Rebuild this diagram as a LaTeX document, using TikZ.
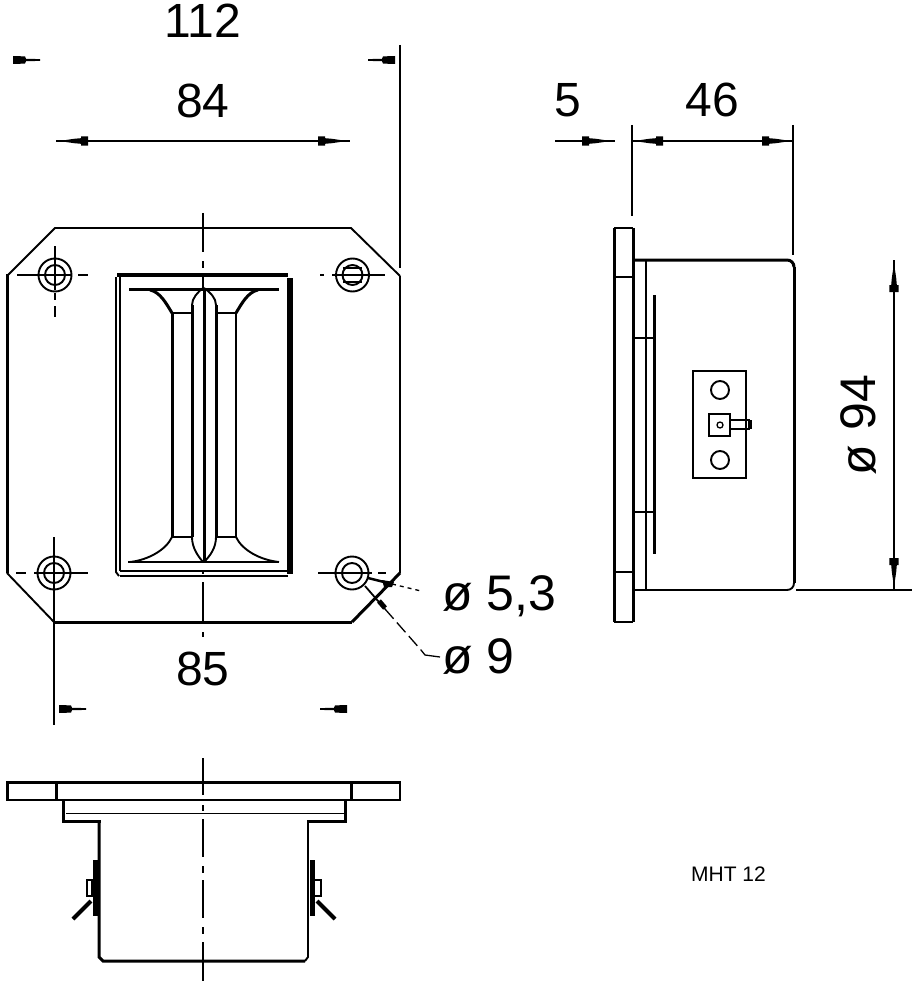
\documentclass[tikz,border=0pt]{standalone}
\usepackage{fontspec}
\setmainfont{Liberation Sans}
\tikzset{
  x=1pt,y=-1pt,
  thinl/.style={line width=1.3pt,black},
  med/.style={line width=1.9pt,black},
  thk/.style={line width=3pt,black},
  vthk/.style={line width=5pt,black},
  dimline/.style={line width=1.3pt,black},
  cshort/.style={line width=1.2pt,black},
  label/.style={font=\fontsize{48}{48}\selectfont,inner sep=2pt,text height=33pt,text depth=0pt,anchor=center},
  dialabel/.style={font=\fontsize{50}{50}\selectfont,inner sep=2pt,text height=33pt,text depth=0pt,anchor=center},
  ahead/.pic={\fill[black] (0,-1) -- (8,-2.2) -- (15,-2.8) -- (15,-4.6) -- (22,-4.6) -- (22,4.6) -- (15,4.6) -- (15,2.8) -- (8,2.2) -- (0,1) -- cycle;},
  bhead/.pic={\fill[black] (0,-0.9) -- (14,-1.2) -- (15,-3.6) -- (27,-4) -- (27,4) -- (15,3.6) -- (14,1.2) -- (0,0.9) -- cycle;},
}
\begin{document}
\begin{tikzpicture}
\useasboundingbox (0,0) rectangle (914,984);
% ---------- front view
\draw[med,line join=miter] (7,276) -- (55,228) -- (351,228) -- (400,276);
\draw[thinl] (400,276) -- (400,573);
\draw[thk] (7,274) -- (7,573);
\draw[med] (7,573) -- (54,622);
\draw[thk] (54,622) -- (352,622);
\draw[thk] (352,622) -- (400,573);
% holes
\foreach \hx/\hy in {55/275,352.5/275,54/573,352/573}{
  \draw[med] (\hx,\hy) circle (16.5pt);
  \draw[med] (\hx,\hy) circle (10pt);
}
\draw[cshort] (55,246) -- (55,290) (55,293) -- (55,300) (55,306) -- (55,317) (17,275) -- (72,275) (78,275) -- (88,275);
\draw[cshort] (320,275) -- (324,275) (332,275) -- (385,275);
\draw[cshort] (343,268) -- (362,268) (343,282) -- (362,282);
\draw[cshort] (54,537) -- (54,622) (16,573) -- (26,573) (34,573) -- (88,573);
\draw[cshort] (318,573) -- (372,573) (378,573) -- (386,573);
% inner frame
\draw[med] (116,277) -- (116,572) -- (119,576);
\draw[med] (120,277) -- (120,571);
\draw[line width=4pt] (117,275) -- (288,275);
\draw[med] (120,576) -- (288,576);
\draw[med] (120,571) -- (287,571);
\draw[line width=6pt] (290,278) -- (290,574);
% horn
\draw[thk] (129,289) -- (279,289);
\draw[thinl] (128,562) -- (279,562);
\draw[thk] (150,290) .. controls (160,292) and (166,303) .. (172,313);
\draw[thk] (258,290) .. controls (248,292) and (242,303) .. (236,313);
\draw[med] (172,313) -- (192,313) (216,313) -- (236,313);
\draw[thk] (172,313) -- (172,537);
\draw[thk] (192,305) -- (192,537);
\draw[thk] (204,290) -- (204,562);
\draw[thk] (216,305) -- (216,537);
\draw[med] (236,313) -- (236,537);
\draw[med] (172,537) -- (192,537) (216,537) -- (236,537);
\draw[med] (192,305) .. controls (192,298) and (198,292) .. (203,288);
\draw[med] (216,305) .. controls (216,298) and (210,292) .. (204,288);
\draw[med] (192,537) .. controls (192,548) and (198,556) .. (203,562);
\draw[med] (216,537) .. controls (216,548) and (210,556) .. (204,562);
\draw[med] (130,562) .. controls (148,560) and (166,550) .. (172,537);
\draw[med] (279,562) .. controls (260,560) and (242,550) .. (236,537);
% centre line
\draw[cshort] (203,213) -- (203,252) (203,261) -- (203,268) (203,275) -- (203,289);
\draw[cshort] (203,570) -- (203,574) (203,582) -- (203,622) (203,632) -- (203,637);
% ---------- dimensions
\node[label] (t112) at (203,21) {112};
\node[label] (t84) at (203,101) {84};
\node[label] (t85) at (203,669) {85};
\node[label] (t5) at (568,100) {5};
\node[label] (t46) at (712,100) {46};
\node[dialabel,anchor=west] (t53) at (440,594) {ø 5,3};
\node[dialabel,anchor=west] (t9) at (440,657) {ø 9};
\node[dialabel,rotate=90] (t94) at (859,425) {ø 94};
\node[font=\fontsize{21}{21}\selectfont,inner sep=0pt] (tm) at (728.5,874) {MHT 12};
% 112
\pic[rotate=180] at (40,60) {bhead};
\pic at (368,60) {bhead};
\draw[dimline] (400,45) -- (400,268);
% 84
\draw[dimline] (56,141) -- (350,141);
\pic at (66,141) {ahead};
\pic[rotate=180] at (340,141) {ahead};
% 85
\draw[dimline] (54,622) -- (54,725);
\pic[rotate=180] at (86,709) {bhead};
\pic at (320,709) {bhead};
% 5 / 46
\draw[dimline] (632,125) -- (632,216);
\draw[dimline] (793,125) -- (793,255);
\draw[dimline] (555,141) -- (615,141);
\draw[dimline] (632,141) -- (793,141);
\pic[rotate=180] at (604,141) {ahead};
\pic at (641,141) {ahead};
\pic[rotate=180] at (784,141) {ahead};
% 94
\draw[dimline] (796,590) -- (912,590);
\draw[dimline] (894,260) -- (894,590);
\pic[rotate=-90] at (894,270) {ahead};
\pic[rotate=90] at (894,580) {ahead};
% leaders
\coordinate (la) at (368,578);
\coordinate (lb) at (392,584);
\coordinate (lc) at (421,591);
\coordinate (ld) at (365,586);
\coordinate (lg) at (385,609);
\coordinate (le) at (421,650);
\coordinate (lf) at (425,655);
\draw[line width=2.5pt] (la) -- (lb);
\fill[black] (382,580) -- (394,582) -- (392,587) -- (384,587) -- cycle;
\draw[line width=1.3pt,dash pattern=on 4pt off 4pt] (lb) -- (lc);
\draw[line width=1.8pt] (ld) -- (lg);
\draw[line width=5pt] (379,601) -- (385,608);
\draw[line width=1.3pt,dash pattern=on 13pt off 5pt] (lg) -- (le);
\draw[line width=1.3pt] (le) -- (lf) -- (t9.west);
% ---------- bottom view
\draw[med] (7,782) rectangle (400,800);
\draw[thk] (7,782) -- (400,782);
\draw[thk] (7,782) -- (7,800);
\draw[thk] (56,782) -- (56,800);
\draw[thk] (351,782) -- (351,800);
\draw[thk] (63,800) -- (63,821) -- (101,821);
\draw[thk] (345,800) -- (345,821) -- (307,821);
\draw[thinl] (66,813.5) -- (344,813.5);
\draw[thk] (99,821) -- (99,957) -- (103,961) -- (305,961);
\draw[med] (305,961) -- (308,957) -- (308,821);
\draw[vthk] (95,860) -- (95,916);
\draw[vthk] (312,860) -- (312,916);
\draw[med] (87,880) rectangle (92,896);
\draw[med] (314,880) rectangle (321,896);
\draw[line width=4pt] (91,901) -- (73,919);
\draw[line width=4pt] (317,901) -- (335,919);
\draw[cshort] (203,758) -- (203,795) (203,805) -- (203,811) (203,819) -- (203,857) (203,866) -- (203,873) (203,880) -- (203,918) (203,927) -- (203,934) (203,942) -- (203,981);
% ---------- side view
\draw[thk] (614,228) -- (614,622);
\draw[med] (614,228) -- (633,228) (614,622) -- (633,622);
\draw[thk] (633,228) -- (633,622);
\draw[thinl] (614,277) -- (633,277) (614,572) -- (633,572);
\draw[thk] (633,260) -- (787,260) .. controls (791,260) and (794,263) .. (794,267);
\draw[thk] (794,267) -- (794,583);
\draw[med] (794,583) .. controls (794,587) and (791,590) .. (787,590) -- (633,590);
\draw[med] (646,260) -- (646,590);
\draw[thk] (654,295) -- (654,554);
\draw[thinl] (633,338) -- (654,338);
\draw[med] (633,512) -- (654,512);
\draw[med] (693,371) rectangle (746,478);
\draw[med] (720,390) circle (9pt);
\draw[med] (720,460) circle (9pt);
\draw[med] (709,414) rectangle (730,436);
\draw[thinl] (720,425) circle (3pt);
\draw[med] (730,420) -- (749,420) -- (749,429) -- (730,429);
\draw[med] (751,420) -- (751,429);
\end{tikzpicture}
\end{document}
